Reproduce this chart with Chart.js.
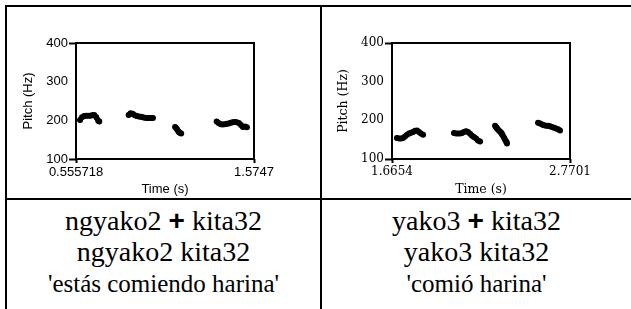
<!DOCTYPE html>
<html>
<head>
<meta charset="utf-8">
<script src="https://cdn.jsdelivr.net/npm/chart.js@4.4.0/dist/chart.umd.min.js"></script>
<style>
body { margin: 0; background: #fff; }
#page { position: relative; width: 631px; height: 309px; overflow: hidden; background: #fff; }
.rule { position: absolute; background: #000; }
.box { position: absolute; }
.cap { position: absolute; top: 205px; font-family: 'Liberation Serif', serif; font-size: 28px; line-height: 31px; text-align: center; color: #000; white-space: nowrap; }
.cap .gloss { font-size: 25px; }
.plus { font-family: 'Liberation Sans', sans-serif; font-size: 28px; font-weight: bold; }
</style>
</head>
<body>
<div id="page">
  <div class="rule" style="left:5px;top:5px;width:626px;height:2px"></div>
  <div class="rule" style="left:5px;top:5px;width:2px;height:304px"></div>
  <div class="rule" style="left:320px;top:5px;width:2px;height:304px"></div>
  <div class="rule" style="left:5px;top:198px;width:626px;height:2px"></div>

  <div class="box" style="left:7px;top:7px;width:312px;height:191px"><canvas id="c1" width="312" height="191"></canvas></div>
  <div class="box" style="left:322px;top:7px;width:306px;height:191px"><canvas id="c2" width="306" height="191"></canvas></div>

  <div class="cap" style="left:7px;width:313px">ngyako2 <span class="plus">+</span> kita32<br>ngyako2 kita32<br><span class="gloss">'estás comiendo harina'</span></div>
  <div class="cap" style="left:322px;width:309px">yako3 <span class="plus">+</span> kita32<br>yako3 kita32<br><span class="gloss">'comió harina'</span></div>
</div>
<script>
// ngyako2 + kita32  (null = unvoiced gap)
var time1 = [0.579, 0.590, 0.602, 0.614, 0.625, 0.637, 0.648, 0.660, 0.672, 0.683, 0.689,
    0.770,
    0.857, 0.868, 0.880, 0.892, 0.903, 0.915, 0.926, 0.938, 0.949, 0.961, 0.973, 0.984, 0.996,
    1.060,
    1.123, 1.129, 1.135, 1.141, 1.146, 1.152, 1.158,
    1.250,
    1.361, 1.372, 1.384, 1.395, 1.407, 1.419, 1.430, 1.442, 1.453, 1.465, 1.476, 1.488, 1.500, 1.511, 1.523, 1.534];
var pitch1 = [201, 208, 211, 212, 212, 212, 213, 214, 208, 199, 197,
    null,
    214, 218, 217, 213, 211, 210, 209, 208, 207, 206, 206, 206, 206,
    null,
    183, 180, 176, 172, 169, 167, 166,
    null,
    197, 193, 190, 189, 190, 191, 192, 194, 195, 196, 195, 193, 188, 183, 184, 182];

// yako3 + kita32
var time2 = [1.696, 1.709, 1.721, 1.734, 1.746, 1.759, 1.771, 1.783, 1.796, 1.808, 1.821, 1.833, 1.845, 1.858,
    1.950,
    2.050, 2.063, 2.075, 2.088, 2.100, 2.112, 2.125, 2.137, 2.150, 2.162, 2.174, 2.187, 2.199, 2.212,
    2.260,
    2.305, 2.311, 2.317, 2.323, 2.330, 2.336, 2.342, 2.348, 2.354, 2.361, 2.367, 2.373, 2.379,
    2.470,
    2.572, 2.584, 2.597, 2.609, 2.621, 2.634, 2.646, 2.658, 2.671, 2.683, 2.696, 2.708];
var pitch2 = [154, 153, 153, 154, 158, 163, 166, 168, 170, 173, 174, 170, 166, 163,
    null,
    167, 166, 166, 166, 167, 170, 172, 170, 165, 160, 157, 153, 148, 145,
    null,
    186, 182, 179, 176, 173, 171, 168, 164, 160, 155, 150, 145, 140,
    null,
    194, 192, 189, 187, 186, 186, 185, 183, 181, 179, 177, 174];

var xRange1 = [0.555718, 1.5747];
var xRange2 = [1.6654, 2.7701];
var xTickLabels1 = ['0.555718', '1.5747'];
var xTickLabels2 = ['1.6654', '2.7701'];
var yRange = [100, 400];

var frame = {
    id: 'frame',
    afterDraw: function (chart) {
        var a = chart.chartArea;
        var c = chart.ctx;
        c.save();
        c.lineWidth = 2;
        c.strokeStyle = '#000';
        c.strokeRect(a.left, a.top, a.right - a.left, a.bottom - a.top);
        c.restore();
    }
};

function makeChart(id, times, pitches, xRange, xLabels, o) {
    var pts = times.map(function (t, i) { return { x: t, y: pitches[i] }; });
    var endTick = function (ctx) {
        var v = ctx.tick && ctx.tick.value;
        return (v === yRange[0] || v === yRange[1]) ? '#000' : 'rgba(0,0,0,0)';
    };
    return new Chart(document.getElementById(id), {
        type: 'line',
        data: {
            datasets: [{
                data: pts,
                borderColor: '#000',
                backgroundColor: '#000',
                borderWidth: 5,
                borderCapStyle: 'round',
                borderJoinStyle: 'round',
                pointRadius: 3,
                pointBorderWidth: 0,
                spanGaps: false,
                tension: 0
            }]
        },
        options: {
            responsive: false,
            animation: false,
            events: [],
            layout: { padding: { left: 0, top: 36, right: o.padRight, bottom: 0 } },
            plugins: { legend: { display: false }, tooltip: { enabled: false } },
            scales: {
                x: {
                    type: 'linear',
                    min: xRange[0],
                    max: xRange[1],
                    afterBuildTicks: function (s) { s.ticks = [{ value: xRange[0] }, { value: xRange[1] }]; },
                    afterFit: function (s) { s.height = 39; },
                    grid: { display: true, drawOnChartArea: false, drawTicks: true, tickLength: 4, tickWidth: 2, tickColor: '#000' },
                    border: { display: false },
                    ticks: {
                        color: '#000', font: o.tickFont, padding: 2, maxRotation: 0, autoSkip: false,
                        callback: function (v, i) { return xLabels[i]; }
                    },
                    title: { display: true, text: 'Time (s)', color: '#000', font: o.titleFont, padding: { top: 0, bottom: 1 } }
                },
                y: {
                    min: yRange[0],
                    max: yRange[1],
                    afterFit: function (s) { s.width = o.yWidth; },
                    grid: { display: true, drawOnChartArea: false, drawTicks: true, tickLength: 7, tickWidth: 2, tickColor: endTick },
                    border: { display: false },
                    ticks: { color: '#000', font: o.tickFont, padding: 1, stepSize: 100 },
                    title: { display: true, text: 'Pitch (Hz)', color: '#000', font: o.titleFont, padding: { top: o.yTitlePad, bottom: 0 } }
                }
            }
        },
        plugins: [frame]
    });
}

makeChart('c1', time1, pitch1, xRange1, xTickLabels1, {
    padRight: 65, yWidth: 69, yTitlePad: 14,
    tickFont: { family: 'Liberation Sans', size: 13 },
    titleFont: { family: 'Liberation Sans', size: 13 }
});
makeChart('c2', time2, pitch2, xRange2, xTickLabels2, {
    padRight: 58, yWidth: 70, yTitlePad: 14,
    tickFont: { family: 'DejaVu Serif', size: 12 },
    titleFont: { family: 'DejaVu Serif', size: 12.5 }
});
</script>
</body>
</html>
